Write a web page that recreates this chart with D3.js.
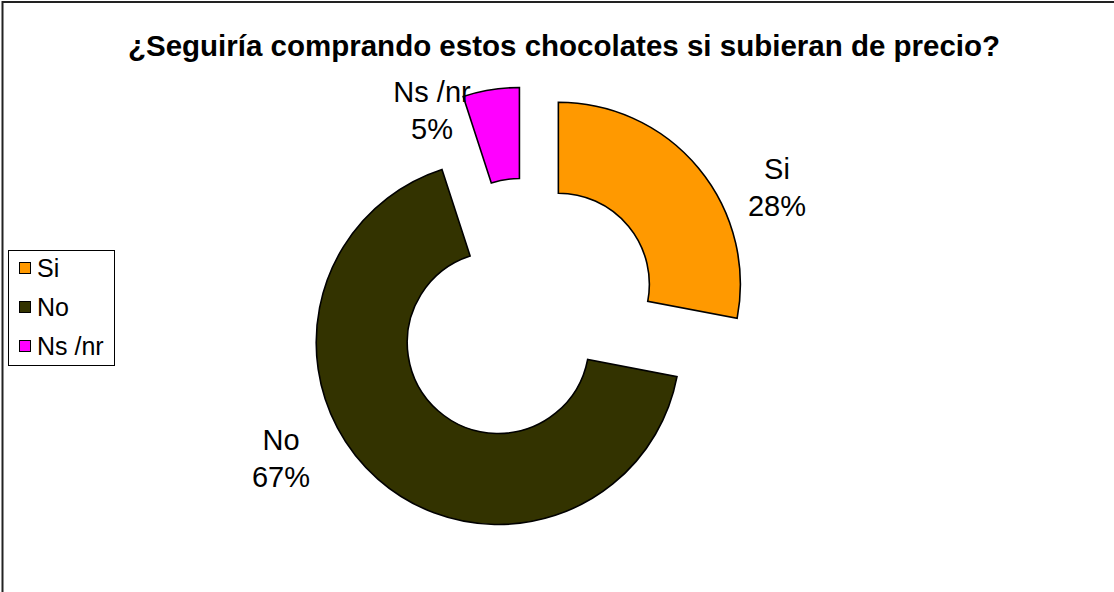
<!DOCTYPE html>
<html>
<head>
<meta charset="utf-8">
<script src="https://cdn.jsdelivr.net/npm/d3@7"></script>
<style>
  html, body { margin: 0; padding: 0; background: #fff; }
  svg { display: block; }
</style>
</head>
<body>
<svg id="chart" width="1114" height="592"></svg>
<script>
const title = "¿Seguiría comprando estos chocolates si subieran de precio?";
const categories = ["Si", "No", "Ns /nr"];
const values = [28, 67, 5];
const colors = ["#FF9900", "#333300", "#FF00FF"];

// layout (not data)
const W = 1114, H = 592;
const center = [526, 311];
const outerR = 182, innerR = 91, explode = 42;
const labelPos = [[777, 179], [281, 450], [432, 102]];

const svg = d3.select("#chart");
const font = "'Liberation Sans', Arial, sans-serif";

// chart area border
svg.append("rect")
  .attr("x", 2.5).attr("y", 2).attr("width", W + 10).attr("height", H + 10)
  .attr("fill", "#fff").attr("stroke", "#222").attr("stroke-width", 2);

// title
svg.append("text")
  .attr("x", 564).attr("y", 56)
  .attr("text-anchor", "middle")
  .attr("font-family", font).attr("font-weight", "bold").attr("font-size", 29.5)
  .attr("fill", "#000")
  .text(title);

const total = d3.sum(values);
const pie = d3.pie().sort(null).value(d => d.v).startAngle(0).endAngle(2 * Math.PI);
const arcs = pie(categories.map((c, i) => ({ c, v: values[i], col: colors[i] })));
const arc = d3.arc().innerRadius(innerR).outerRadius(outerR);

const g = svg.append("g").attr("transform", `translate(${center[0]},${center[1]})`);
g.selectAll("path.slice").data(arcs).join("path")
  .attr("class", "slice")
  .attr("transform", d => {
    const m = (d.startAngle + d.endAngle) / 2;
    return `translate(${explode * Math.sin(m)},${-explode * Math.cos(m)})`;
  })
  .attr("d", arc)
  .attr("fill", d => d.data.col)
  .attr("stroke", "#000").attr("stroke-width", 1.6).attr("stroke-linejoin", "miter");

// data labels
const fmt = d3.format(".0%");
const lab = svg.append("g");
arcs.forEach((d, i) => {
  const t = lab.append("text")
    .attr("x", labelPos[i][0]).attr("y", labelPos[i][1])
    .attr("text-anchor", "middle")
    .attr("font-family", font).attr("font-size", 29).attr("fill", "#000");
  t.append("tspan").attr("x", labelPos[i][0]).attr("dy", 0).text(d.data.c);
  t.append("tspan").attr("x", labelPos[i][0]).attr("dy", 37).text(fmt(d.data.v / total));
});

// legend
const lg = svg.append("g");
lg.append("rect")
  .attr("x", 8.5).attr("y", 250.5).attr("width", 106).attr("height", 115)
  .attr("fill", "#fff").attr("stroke", "#000").attr("stroke-width", 1);
const ly = d3.scalePoint().domain(categories).range([268, 346]);
const items = lg.selectAll("g.item").data(categories).join("g").attr("class", "item");
items.append("rect")
  .attr("x", 19.5).attr("y", d => ly(d) - 5.5).attr("width", 11).attr("height", 11)
  .attr("fill", (d, i) => colors[i]).attr("stroke", "#000").attr("stroke-width", 1);
items.append("text")
  .attr("x", 37).attr("y", d => ly(d) + 9)
  .attr("font-family", font).attr("font-size", 25).attr("fill", "#000")
  .text(d => d);
</script>
</body>
</html>
